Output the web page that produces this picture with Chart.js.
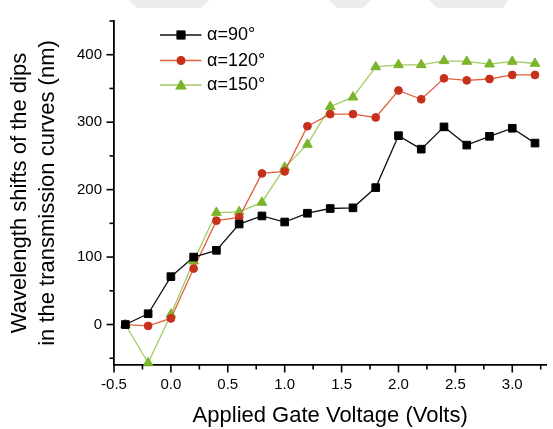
<!DOCTYPE html>
<html><head><meta charset="utf-8">
<script src="https://cdn.jsdelivr.net/npm/chart.js@4.4.1/dist/chart.umd.min.js"></script>
<style>html,body{margin:0;padding:0;background:#fff;}canvas{display:block;}</style>
</head><body>
<canvas id="c" width="553" height="429"></canvas>
<script>
const voltages = [-0.4,-0.2,0.0,0.2,0.4,0.6,0.8,1.0,1.2,1.4,1.6,1.8,2.0,2.2,2.4,2.6,2.8,3.0,3.2];
const shift90  = [0,16,71,100,110,149,161,152,165,172,173,203,280,260,293,266,279,291,269];
const shift120 = [0,-2,9,83,154,159,224,227,294,312,312,307,347,334,365,362,364,370,370];
const shift150 = [0,-57,15,94,166,167,181,233,267,323,337,382,385,385,391,390,386,390,387];
const seriesLabels = ['\u03b1=90\u00b0','\u03b1=120\u00b0','\u03b1=150\u00b0'];
const xMajorTicks = [-0.5,0,0.5,1,1.5,2,2.5,3];
const xMinorTicks = [-0.25,0.25,0.75,1.25,1.75,2.25,2.75,3.25];
const yMajorTicks = [0,100,200,300,400];
const yMinorTicks = [-50,50,150,250,350,450];
const xTitle = 'Applied Gate Voltage (Volts)';
const yTitle = ['Wavelength shifts of the dips','in the transmission curves (nm)'];

const FONT = "'Liberation Sans', Arial, Helvetica, sans-serif";
const toPts = arr => voltages.map((v,i)=>({x:v,y:arr[i]}));

const watermark = {
  id:'watermark',
  beforeDraw(chart){
    const ctx = chart.ctx;
    ctx.save();
    ctx.fillStyle = '#ececec';
    const polys = [
      [[128,0],[209,0],[201,8],[137,8]],
      [[329,0],[371,0],[363,8],[337,8]],
      [[429,0],[508,0],[503,8],[437,8]]
    ];
    polys.forEach(p=>{ctx.beginPath();ctx.moveTo(p[0][0],p[0][1]);for(let i=1;i<p.length;i++)ctx.lineTo(p[i][0],p[i][1]);ctx.closePath();ctx.fill();});
    ctx.restore();
  }
};

const axisTicks = {
  id:'axisTicks',
  afterDraw(chart){
    const {ctx, scales:{x,y}} = chart;
    ctx.save();
    ctx.strokeStyle = '#000';
    ctx.lineWidth = 1.6;
    const base = x.top;
    const seg = (x1,y1,x2,y2)=>{ctx.beginPath();ctx.moveTo(x1,y1);ctx.lineTo(x2,y2);ctx.stroke();};
    xMajorTicks.forEach(v=>{const p=x.getPixelForValue(v);seg(p,base,p,base+7.5);});
    xMinorTicks.forEach(v=>{const p=x.getPixelForValue(v);if(p<=chart.width)seg(p,base,p,base+4.5);});
    const left = y.right;
    yMajorTicks.forEach(v=>{const p=y.getPixelForValue(v);seg(left-7.5,p,left,p);});
    yMinorTicks.forEach(v=>{const p=y.getPixelForValue(v);seg(left-4.5,p,left,p);});
    ctx.restore();
  }
};

const legendBox = {
  id:'legendBox',
  afterDraw(chart){
    const ctx = chart.ctx;
    const rows = [35,60.5,85];
    ctx.save();
    chart.data.datasets.forEach((ds,i)=>{
      const yy = rows[i];
      ctx.strokeStyle = ds.borderColor;
      ctx.lineWidth = ds.borderWidth;
      ctx.beginPath();ctx.moveTo(160,yy);ctx.lineTo(201.5,yy);ctx.stroke();
      Chart.helpers.drawPoint(ctx,{pointStyle:ds.pointStyle,radius:ds.pointRadius,borderWidth:ds.pointBorderWidth,rotation:0},181,yy + (ds.pointStyle==='triangle'?1:0));
      ctx.fillStyle = ds.pointBackgroundColor;
      ctx.strokeStyle = ds.pointBorderColor;
      ctx.lineWidth = ds.pointBorderWidth;
      ctx.fill();ctx.stroke();
      ctx.fillStyle = '#000';
      ctx.font = '18px ' + FONT;
      ctx.textBaseline = 'middle';
      ctx.textAlign = 'left';
      ctx.fillText(seriesLabels[i],207,yy+0.5);
    });
    ctx.restore();
  }
};

const mkDs = (label,data,line,fill,style,r)=>({
  label, data: toPts(data),
  borderColor: line, borderWidth: 1.3,
  pointStyle: style, pointRadius: r, pointHoverRadius: r,
  pointBackgroundColor: fill, pointBorderColor: fill, pointBorderWidth: 1,
  fill:false, tension:0, clip:false
});

new Chart(document.getElementById('c'),{
  type:'line',
  data:{datasets:[
    mkDs(seriesLabels[0],shift90,'#111111','#000000','rect',5.4),
    mkDs(seriesLabels[1],shift120,'#e0603c','#c7301d','circle',3.9),
    mkDs(seriesLabels[2],shift150,'#9fcc62','#7ab52c','triangle',5.6)
  ]},
  options:{
    responsive:false, animation:false,
    layout:{padding:{top:10,left:0,right:0,bottom:0}},
    plugins:{legend:{display:false},tooltip:{enabled:false}},
    scales:{
      x:{
        type:'linear', min:-0.5, max:3.3,
        afterBuildTicks:s=>{s.ticks = xMajorTicks.map(v=>({value:v}));},
        afterFit:s=>{s.height = 64;},
        grid:{display:false, drawOnChartArea:false, drawTicks:false},
        border:{display:true,color:'#000',width:1.8},
        ticks:{padding:10.5,color:'#000',font:{family:FONT,size:15},autoSkip:false,maxRotation:0,
               callback:v=>Number(v).toFixed(1)},
        title:{display:true,text:xTitle,color:'#000',font:{family:FONT,size:22},padding:{top:0,bottom:0}}
      },
      y:{
        type:'linear', min:-60, max:450,
        afterBuildTicks:s=>{s.ticks = yMajorTicks.map(v=>({value:v}));},
        afterFit:s=>{s.width = 114;},
        grid:{display:false, drawOnChartArea:false, drawTicks:false},
        border:{display:true,color:'#000',width:1.8},
        ticks:{padding:12,color:'#000',font:{family:FONT,size:15},callback:v=>String(v)},
        title:{display:true,text:yTitle,color:'#000',font:{family:FONT,size:22,lineHeight:1.25},padding:{top:6.5,bottom:0}}
      }
    }
  },
  plugins:[watermark,axisTicks,legendBox]
});
</script>
</body></html>
